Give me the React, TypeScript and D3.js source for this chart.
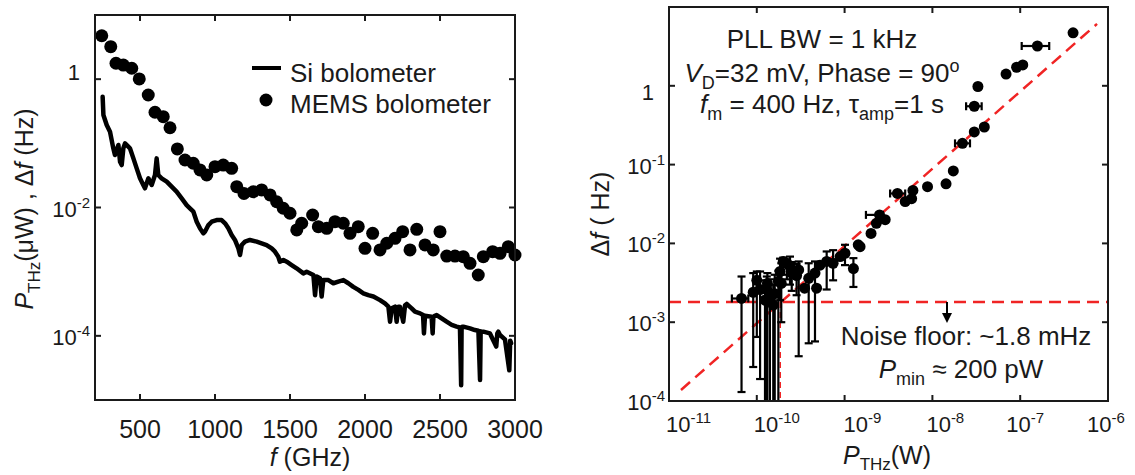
import React from "react";
import * as d3 from "d3";

// ---------- Left panel data ----------
const siFreq = [251, 256, 278, 300, 322, 333, 356, 367, 378, 389, 400, 422, 433, 456, 478, 500, 522, 533, 556, 567, 578, 600, 611, 622, 644, 678, 711, 744, 778, 811, 833, 856, 878, 900, 922, 933, 956, 978, 1011, 1044, 1067, 1089, 1111, 1133, 1156, 1167, 1178, 1200, 1233, 1278, 1311, 1344, 1378, 1400, 1422, 1433, 1456, 1478, 1511, 1544, 1589, 1611, 1656, 1667, 1678, 1700, 1711, 1722, 1756, 1789, 1822, 1856, 1889, 1922, 1956, 1989, 2022, 2056, 2100, 2133, 2156, 2167, 2178, 2200, 2211, 2222, 2233, 2255, 2267, 2278, 2311, 2333, 2367, 2387, 2393, 2400, 2444, 2451, 2456, 2462, 2478, 2511, 2544, 2578, 2611, 2633, 2641, 2644, 2648, 2656, 2700, 2733, 2756, 2767, 2771, 2775, 2789, 2833, 2875, 2882, 2889, 2900, 2933, 2962, 2968, 2971, 2974, 2984, 3000];
const siPower = [0.53, 0.277, 0.193, 0.152, 0.0836, 0.0658, 0.0942, 0.0518, 0.0459, 0.0836, 0.100, 0.0887, 0.0836, 0.0583, 0.0407, 0.0285, 0.0224, 0.0199, 0.0285, 0.0253, 0.0224, 0.0321, 0.0583, 0.0321, 0.0285, 0.0253, 0.0211, 0.0177, 0.0139, 0.0109, 0.0097, 0.0086, 0.0060, 0.00473, 0.00395, 0.0042, 0.00533, 0.0060, 0.00638, 0.00638, 0.00566, 0.00473, 0.00372, 0.00312, 0.00231, 0.00182, 0.0026, 0.00294, 0.00312, 0.00294, 0.00277, 0.0026, 0.00231, 0.00205, 0.00171, 0.00143, 0.00152, 0.00143, 0.00127, 0.00113, 0.00094, 0.0010, 0.00089, 0.00043, 0.00084, 0.00079, 0.00041, 0.00074, 0.00074, 0.00066, 0.00070, 0.00074, 0.00066, 0.00058, 0.00052, 0.00046, 0.00043, 0.00041, 0.00036, 0.00032, 0.000285, 0.000166, 0.000268, 0.000285, 0.000166, 0.000285, 0.000285, 0.000166, 0.000300, 0.000314, 0.000268, 0.000238, 0.000224, 0.000211, 0.000109, 0.000205, 0.000199, 0.000109, 0.000199, 0.000203, 0.000211, 0.000187, 0.000166, 0.000148, 0.000139, 0.000135, 0.000017, 0.000135, 0.000139, 0.000139, 0.000131, 0.000123, 0.000120, 0.0000205, 0.000118, 0.000116, 0.000116, 0.000109, 0.000068, 0.000109, 0.000116, 0.000103, 0.000088, 0.000029, 0.000084, 0.000081, 0.000077];

const memsFreq = [245, 305, 340, 389, 445, 495, 555, 600, 655, 700, 749, 800, 855, 900, 945, 1000, 1055, 1111, 1145, 1193, 1255, 1311, 1367, 1411, 1455, 1500, 1545, 1578, 1651, 1689, 1745, 1800, 1855, 1900, 1955, 2000, 2051, 2100, 2145, 2200, 2251, 2300, 2345, 2400, 2455, 2500, 2545, 2600, 2655, 2700, 2755, 2789, 2851, 2900, 2955, 3000];
const memsDf = [4.75, 3.21, 1.77, 1.66, 1.48, 1.01, 0.566, 0.305, 0.26, 0.175, 0.0817, 0.055, 0.0489, 0.0385, 0.0321, 0.0433, 0.0459, 0.0408, 0.0211, 0.0166, 0.0176, 0.0188, 0.0157, 0.0123, 0.00973, 0.00813, 0.00447, 0.00568, 0.00764, 0.00502, 0.00474, 0.00601, 0.00568, 0.00396, 0.00502, 0.00231, 0.00396, 0.00218, 0.00277, 0.00331, 0.0042, 0.00218, 0.00457, 0.00261, 0.00218, 0.0042, 0.00175, 0.00175, 0.00171, 0.00135, 0.000887, 0.00171, 0.00205, 0.00193, 0.00245, 0.00182];

const xTicksL = [500, 1000, 1500, 2000, 2500, 3000];
const yTicksL = [1, 1e-2, 1e-4];
const yTickExpL = ["", "-2", "-4"];
const legendLabels = ["Si bolometer", "MEMS bolometer"];

// ---------- Right panel data ----------
const pThz = [4.0e-7, 1.57e-7, 1.07e-7, 9.1e-8, 6.9e-8, 3.3e-8, 3.0e-8, 3.9e-8, 3.0e-8, 2.2e-8, 1.73e-8, 1.43e-8, 8.8e-9, 6.0e-9, 5.8e-9, 4.9e-9, 4.0e-9, 2.5e-9, 2.9e-9, 2.3e-9, 2.0e-9, 1.5e-9, 1.43e-9, 1.26e-9, 1.01e-9, 8.9e-10, 7.4e-10, 6.25e-10, 5.25e-10, 4.8e-10, 4.6e-10, 3.9e-10, 3.5e-10, 3.0e-10, 2.5e-10, 2.2e-10, 1.9e-10, 1.76e-10, 1.6e-10, 1.54e-10, 1.41e-10, 1.3e-10, 1.24e-10, 1.09e-10, 9.1e-11, 6.7e-11, 1.0e-10, 1.32e-10, 1.84e-10, 2.39e-10, 2.84e-10, 2.0e-10];
const dfR = [4.7, 3.2, 1.84, 1.72, 1.41, 0.98, 0.55, 0.30, 0.26, 0.186, 0.083, 0.057, 0.0525, 0.047, 0.037, 0.034, 0.043, 0.023, 0.020, 0.018, 0.0134, 0.0091, 0.0096, 0.0048, 0.0075, 0.0068, 0.0056, 0.0059, 0.0053, 0.0027, 0.0042, 0.0036, 0.0027, 0.0046, 0.0042, 0.0056, 0.0031, 0.0033, 0.0023, 0.00165, 0.0021, 0.0026, 0.0019, 0.0026, 0.0024, 0.0020, 0.0034, 0.0031, 0.0044, 0.0051, 0.0039, 0.0059];
const dfLow = [null, null, null, null, null, null, null, null, null, null, null, null, null, null, null, null, null, null, null, null, null, null, null, 0.0028, 0.0053, null, 0.0034, 0.0026, null, null, 0.00057, 0.00054, null, 0.00037, 0.0025, 0.0035, 0.0010, 1e-5, 1e-5, 1e-5, 1e-5, 1e-5, 1e-5, 0.00019, 0.00027, 0.00013, 0.00065, 1e-5, 0.0019, 0.0030, 0.0022, 0.0040];
const dfHigh = [null, null, null, null, null, null, null, null, null, null, null, null, null, null, null, null, null, null, null, null, null, null, null, 0.0065, 0.0096, null, 0.0082, 0.0079, null, null, 0.0059, 0.0056, null, 0.0059, 0.0058, 0.0062, 0.0056, 0.0045, 0.0040, 0.0030, 0.0035, 0.0038, 0.0034, 0.0044, 0.0042, 0.0038, 0.0044, 0.0042, 0.0064, 0.0068, 0.0055, 0.0066];
const pLow = [null, 1.04e-7, null, null, null, null, 2.42e-8, null, null, 1.81e-8, null, null, null, null, null, null, 3.3e-9, 1.75e-9, null, null, null, null, null, null, null, null, null, null, null, null, null, null, null, null, null, null, null, null, null, null, null, null, null, null, null, 5.2e-11, null, null, null, null, null, null];
const pHigh = [null, 2.14e-7, null, null, null, null, 3.64e-8, null, null, 2.68e-8, null, null, null, null, null, null, 4.9e-9, 2.73e-9, null, null, null, null, null, null, null, null, null, null, null, null, null, null, null, null, null, null, null, null, null, null, null, null, null, null, null, 8.0e-11, null, null, null, null, null, null];

const fitP = [1.37e-11, 7.5e-7];
const fitDf = [1.38e-4, 6.1];
const noiseFloor = 1.8e-3;
const pMin = 1.85e-10;

const xTicksR = [1e-11, 1e-10, 1e-9, 1e-8, 1e-7, 1e-6];
const xTickExpR = ["-11", "-10", "-9", "-8", "-7", "-6"];
const xTickShiftR = [-3, -3, -1, -6, -14, -21];
const yTicksR = [1, 1e-1, 1e-2, 1e-3, 1e-4];
const yTickExpR = ["", "-1", "-2", "-3", "-4"];

const FONT = "'Liberation Sans', Arial, Helvetica, sans-serif";
const INK = "#1a1a1a";
const RED = "#f02424";

export default function App() {
  const xL = d3.scaleLinear().domain([200, 3000]).range([95, 515]);
  const yL = d3.scaleLog().domain([1e-5, 10]).range([400, 15]);
  const xR = d3.scaleLog().domain([1e-11, 1e-6]).range([669, 1108]);
  const yR = d3.scaleLog().domain([1e-4, 10]).range([401, 7]);

  const siLine = d3
    .line<number>()
    .x((i) => xL(siFreq[i]))
    .y((i) => yL(siPower[i]))(siFreq.map((_, i) => i));

  const fitLine = d3
    .line<number>()
    .x((i) => xR(fitP[i]))
    .y((i) => yR(fitDf[i]))(fitP.map((_, i) => i));

  const tick = 6;
  const cap = 4;

  return (
    <svg
      width={1135}
      height={475}
      style={{ position: "absolute", left: 0, top: 0, background: "#fff" }}
      fontFamily={FONT}
    >
      <defs>
        <clipPath id="clipR">
          <rect x={669} y={7} width={439} height={394} />
        </clipPath>
        <clipPath id="clipL">
          <rect x={95} y={15} width={420} height={385} />
        </clipPath>
      </defs>
      <rect x={0} y={0} width={1135} height={475} fill="#fff" />

      {/* ================= LEFT PANEL ================= */}
      <g clipPath="url(#clipL)">
        <path d={siLine || ""} fill="none" stroke="#000" strokeWidth={4.5} strokeLinejoin="round" strokeLinecap="round" />
      </g>
      {memsFreq.map((f, i) => (
        <circle key={"m" + i} cx={xL(f)} cy={yL(memsDf[i])} r={6.5} fill="#000" />
      ))}

      <rect x={95} y={15} width={420} height={385} fill="none" stroke={INK} strokeWidth={2} />
      {xTicksL.map((t) => (
        <g key={"xl" + t}>
          <line x1={xL(t)} x2={xL(t)} y1={400} y2={400 - tick} stroke={INK} strokeWidth={2} />
          <line x1={xL(t)} x2={xL(t)} y1={15} y2={15 + tick} stroke={INK} strokeWidth={2} />
          <text x={xL(t)} y={438} fontSize={25} textAnchor="middle" fill={INK}>
            {t}
          </text>
        </g>
      ))}
      {yTicksL.map((t, i) => (
        <g key={"yl" + t}>
          <line x1={95} x2={95 + tick} y1={yL(t)} y2={yL(t)} stroke={INK} strokeWidth={2} />
          <line x1={515} x2={515 - tick} y1={yL(t)} y2={yL(t)} stroke={INK} strokeWidth={2} />
          {yTickExpL[i] === "" ? (
            <text x={80} y={yL(t) + 1} fontSize={22} textAnchor="end" fill={INK}>
              1
            </text>
          ) : (
            <text x={90} y={yL(t) + 9} fontSize={22} textAnchor="end" fill={INK}>
              10
              <tspan dy={-9} fontSize={15}>
                {yTickExpL[i]}
              </tspan>
            </text>
          )}
        </g>
      ))}
      <text x={310} y={466} fontSize={25} textAnchor="middle" fill={INK}>
        <tspan fontStyle="italic">f</tspan> (GHz)
      </text>
      <text transform="translate(33,209) rotate(-90)" fontSize={25} textAnchor="middle" fill={INK}>
        <tspan fontStyle="italic">P</tspan>
        <tspan dy={7} fontSize={17}>THz</tspan>
        <tspan dy={-7}>(μW) , Δ</tspan>
        <tspan fontStyle="italic">f</tspan> (Hz)
      </text>
      <line x1={252} x2={281} y1={68} y2={68} stroke="#000" strokeWidth={4} />
      <circle cx={266} cy={100} r={6.5} fill="#000" />
      <text x={290} y={82} fontSize={26} fill={INK}>
        {legendLabels[0]}
      </text>
      <text x={290} y={113} fontSize={26} fill={INK}>
        {legendLabels[1]}
      </text>

      {/* ================= RIGHT PANEL ================= */}
      <g clipPath="url(#clipR)">
        <line
          x1={xR(pMin)}
          x2={xR(pMin)}
          y1={yR(noiseFloor)}
          y2={yR(1e-4)}
          stroke={RED}
          strokeWidth={1.5}
          strokeDasharray="6 4"
        />
        <line
          x1={669}
          x2={1108}
          y1={yR(noiseFloor)}
          y2={yR(noiseFloor)}
          stroke={RED}
          strokeWidth={2.5}
          strokeDasharray="12 7"
        />
        <path d={fitLine || ""} fill="none" stroke={RED} strokeWidth={2.5} strokeDasharray="12 7" />
        {pThz.map((p, i) => {
          const cx = xR(p);
          const cy = yR(dfR[i]);
          const lo = dfLow[i];
          const hi = dfHigh[i];
          const pl = pLow[i];
          const ph = pHigh[i];
          return (
            <g key={"r" + i} stroke="#000" strokeWidth={2.2}>
              {lo !== null && hi !== null && (
                <>
                  <line x1={cx} x2={cx} y1={yR(lo)} y2={yR(hi)} />
                  <line x1={cx - cap} x2={cx + cap} y1={yR(lo)} y2={yR(lo)} />
                  <line x1={cx - cap} x2={cx + cap} y1={yR(hi)} y2={yR(hi)} />
                </>
              )}
              {pl !== null && ph !== null && (
                <>
                  <line x1={xR(pl)} x2={xR(ph)} y1={cy} y2={cy} />
                  <line x1={xR(pl)} x2={xR(pl)} y1={cy - cap} y2={cy + cap} />
                  <line x1={xR(ph)} x2={xR(ph)} y1={cy - cap} y2={cy + cap} />
                </>
              )}
              <circle cx={cx} cy={cy} r={5.5} fill="#000" stroke="none" />
            </g>
          );
        })}
      </g>

      <rect x={669} y={7} width={439} height={394} fill="none" stroke={INK} strokeWidth={2} />
      {xTicksR.map((t, i) => (
        <g key={"xr" + i}>
          <line x1={xR(t)} x2={xR(t)} y1={401} y2={401 - tick} stroke={INK} strokeWidth={2} />
          <line x1={xR(t)} x2={xR(t)} y1={7} y2={7 + tick} stroke={INK} strokeWidth={2} />
          <text x={xR(t) + xTickShiftR[i]} y={432} fontSize={22} fill={INK}>
            10
            <tspan dy={-9} fontSize={15}>
              {xTickExpR[i]}
            </tspan>
          </text>
        </g>
      ))}
      {yTicksR.map((t, i) => (
        <g key={"yr" + i}>
          <line x1={669} x2={669 + tick} y1={yR(t)} y2={yR(t)} stroke={INK} strokeWidth={2} />
          <line x1={1108} x2={1108 - tick} y1={yR(t)} y2={yR(t)} stroke={INK} strokeWidth={2} />
          {yTickExpR[i] === "" ? (
            <text x={654} y={yR(t) + 14} fontSize={22} textAnchor="end" fill={INK}>
              1
            </text>
          ) : (
            <text x={665} y={yR(t) + 9} fontSize={22} textAnchor="end" fill={INK}>
              10
              <tspan dy={-9} fontSize={15}>
                {yTickExpR[i]}
              </tspan>
            </text>
          )}
        </g>
      ))}
      <text x={887} y={464} fontSize={25} textAnchor="middle" fill={INK}>
        <tspan fontStyle="italic">P</tspan>
        <tspan dy={6} fontSize={17}>THz</tspan>
        <tspan dy={-6}>(W)</tspan>
      </text>
      <text transform="translate(609,214) rotate(-90)" fontSize={25} textAnchor="middle" fill={INK}>
        Δ<tspan fontStyle="italic">f</tspan> ( Hz)
      </text>

      <text x={822} y={48} fontSize={26} textAnchor="middle" fill={INK}>
        PLL BW = 1 kHz
      </text>
      <text x={822} y={82} fontSize={26} textAnchor="middle" fill={INK}>
        <tspan fontStyle="italic">V</tspan>
        <tspan dy={7} fontSize={18}>D</tspan>
        <tspan dy={-7}>=32 mV, Phase = 90</tspan>
        <tspan dy={-10} fontSize={18}>o</tspan>
      </text>
      <text x={822} y={113} fontSize={26} textAnchor="middle" fill={INK}>
        <tspan fontStyle="italic">f</tspan>
        <tspan dy={7} fontSize={18}>m</tspan>
        <tspan dy={-7}> = 400 Hz, τ</tspan>
        <tspan dy={7} fontSize={18}>amp</tspan>
        <tspan dy={-7}>=1 s</tspan>
      </text>
      <text x={966} y={345} fontSize={26} textAnchor="middle" fill={INK}>
        Noise floor: ~1.8 mHz
      </text>
      <text x={961} y={378} fontSize={26} textAnchor="middle" fill={INK}>
        <tspan fontStyle="italic">P</tspan>
        <tspan dy={7} fontSize={18}>min</tspan>
        <tspan dy={-7}> ≈ 200 pW</tspan>
      </text>
      <line x1={947} x2={947} y1={yR(noiseFloor)} y2={314} stroke="#000" strokeWidth={2} />
      <path d="M942,313 L952,313 L947,323 Z" fill="#000" />
    </svg>
  );
}
